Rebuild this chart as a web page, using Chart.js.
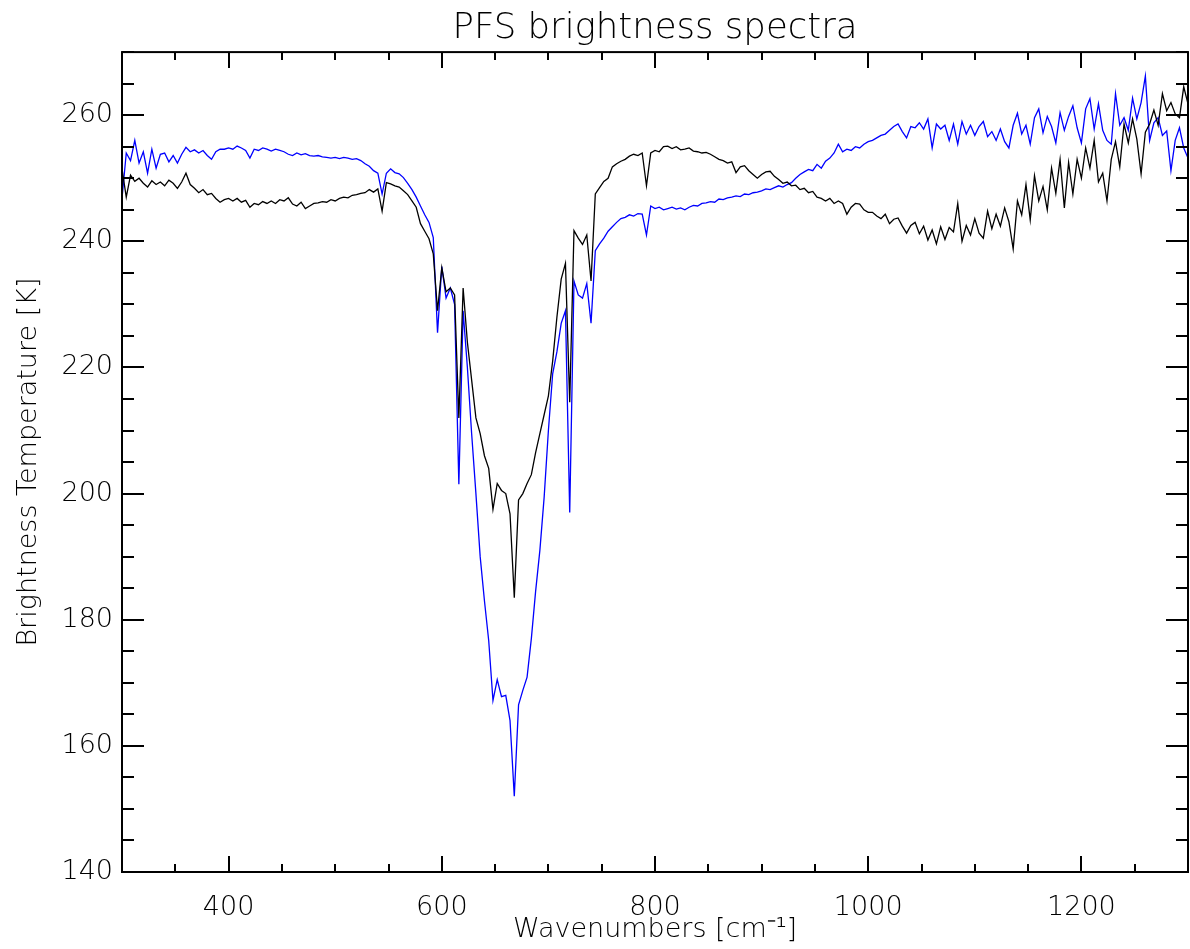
<!DOCTYPE html>
<html>
<head>
<meta charset="utf-8">
<title>PFS brightness spectra</title>
<script src="https://cdn.jsdelivr.net/npm/chart.js@4.4.1/dist/chart.umd.min.js"></script>
<style>
  html, body { margin: 0; padding: 0; background: #fff; overflow: hidden; }
  #wrap { width: 1190px; height: 949px; }
</style>
</head>
<body>
<div id="wrap"><canvas id="grafico"></canvas></div>
<script>
// wavenumber grid: 300 .. 1300 cm-1, one sample every 4 cm-1
const wnStart = 300;
const wnStep = 4;

const xMajorTicks = [400, 600, 800, 1000, 1200];
const yMajorTicks = [140, 160, 180, 200, 220, 240, 260];

// black spectrum [K], rows of 10 samples (row start in comment)
const tempBlack = [
  251.5, 247, 250.5, 249.5, 250, 249.2, 248.6, 249.6, 249, 249.4,         // 300
  248.8, 249.7, 249.2, 248.4, 249.4, 250.8, 249, 248.4, 247.7, 248.2,     // 340
  247.4, 247.6, 246.8, 246.2, 246.6, 246.8, 246.4, 246.8, 246.2, 246.5,   // 380
  245.4, 246, 245.8, 246.3, 246, 246.4, 246, 246.6, 246.4, 246.9,         // 420
  245.9, 245.6, 246.2, 245.2, 245.6, 246, 246.1, 246.3, 246.2, 246.6,     // 460
  246.4, 246.8, 247, 246.9, 247.3, 247.4, 247.6, 247.7, 248.2, 247.8,     // 500
  248.3, 244.8, 249.3, 249.1, 248.8, 248.6, 248, 247.4, 246.4, 245.4,     // 540
  242.8, 241.6, 240.4, 238, 229, 235.8, 232, 232.6, 231.5, 212,           // 580
  232.6, 224, 218, 212, 209.5, 206, 204, 197.5, 201.6, 200.5,             // 620
  200, 196.8, 183.5, 199, 200, 201.6, 203, 206.5, 209.5, 212.5,           // 660
  215.5, 221, 228, 234, 236.5, 214.5, 241.7, 240.5, 239.5, 241,           // 700
  233.7, 247.5, 248.5, 249.5, 250, 251.8, 252.3, 252.7, 253, 253.5,       // 740
  253.8, 253.6, 254, 248.8, 254, 254.4, 254.2, 255, 255.1, 254.7,         // 780
  255, 254.5, 254.6, 254.8, 254.3, 254.2, 254, 254.1, 253.8, 253.4,       // 820
  253, 252.8, 252.4, 252.6, 250.9, 251.8, 252, 251.2, 250.6, 250,         // 860
  250.6, 251, 251.1, 250.3, 249.8, 249.2, 249.4, 248.8, 248.9, 248.2,     // 900
  248.4, 247.7, 247.9, 247, 246.8, 246.4, 246.8, 246, 246.4, 246,         // 940
  244.3, 245.4, 246, 245.9, 245, 244.6, 244.6, 244, 243.6, 244.3,         // 980
  242.8, 243.5, 243.7, 242.4, 241.3, 242.5, 243, 241.2, 242.4, 240.2,     // 1020
  241.8, 239.6, 242.3, 240.3, 242.2, 241.5, 246, 240, 242.5, 241,         // 1060
  243.6, 241.3, 240.5, 244.8, 242, 244.3, 242.4, 245.3, 243.1, 238.8,     // 1100
  246.4, 244.2, 249, 243.4, 250.4, 246.4, 248.7, 245, 251.6, 247.6,       // 1140
  253, 245.3, 252.5, 247.5, 253, 250, 254.8, 251.6, 256, 249.4,           // 1180
  250.8, 246.4, 253, 255.8, 251.8, 258.6, 255.6, 259.4, 256.2, 250.7,     // 1220
  257.3, 258.6, 260.8, 258.4, 263.4, 260.7, 262, 260.2, 259.6, 264.5,     // 1260
  261.8                                                                   // 1300
];

// blue spectrum [K]
const tempBlue = [
  246.8, 254, 252.8, 256, 252.4, 254.2, 250.8, 254.6, 251.6, 253.8,       // 300
  254, 252.6, 253.6, 252.4, 253.8, 254.9, 254.2, 254.5, 254, 254.4,       // 340
  253.6, 253, 254.2, 254.6, 254.6, 254.8, 254.6, 255.1, 254.8, 254.4,     // 380
  253.2, 254.6, 254.4, 254.8, 254.6, 254.3, 254.6, 254.4, 254.2, 253.8,   // 420
  253.6, 254, 253.7, 253.9, 253.6, 253.5, 253.6, 253.4, 253.3, 253.2,     // 460
  253.3, 253.1, 253.3, 253.2, 253, 253.1, 252.8, 252.3, 251.9, 251.2,     // 500
  250.8, 247.5, 250.8, 251.5, 250.9, 250.7, 250.1, 249.2, 248.2, 247,     // 540
  245.6, 244.2, 243, 240.6, 225.5, 236, 231, 232.6, 230, 201.5,           // 580
  229, 220, 209.5, 200, 190, 183, 176.7, 167.2, 170.5, 167.8,             // 620
  168, 164, 152, 166.5, 168.8, 170.9, 177, 184.5, 191, 199.4,             // 660
  210, 219, 222.5, 227, 229, 197, 233.7, 231.5, 231, 233.3,               // 700
  227, 238.5, 239.6, 240.5, 241.6, 242.3, 243, 243.6, 243.8, 244.2,       // 740
  244, 244.4, 244.3, 241, 245.6, 245.2, 245.4, 245, 245.2, 245.4,         // 780
  245.1, 245.3, 245, 245.4, 245.7, 245.6, 246, 246.1, 246.3, 246.2,       // 820
  246.7, 246.6, 246.9, 247, 247.2, 247.1, 247.5, 247.4, 247.7, 247.8,     // 860
  248, 248.3, 248.2, 248.5, 248.8, 248.6, 249, 249.3, 250, 250.6,         // 900
  251, 251.4, 251.2, 252.2, 251.6, 252.7, 253.2, 254, 255.4, 254.2,       // 940
  254.6, 254.4, 255, 254.8, 255.4, 255.8, 256, 256.4, 256.8, 257,         // 980
  257.6, 258.2, 258.6, 257.4, 256.4, 258.2, 258, 258.8, 257.8, 259.4,     // 1020
  254.8, 258.6, 257.8, 258.4, 256, 258.6, 255.4, 259, 257, 258.4,         // 1060
  256.8, 258.2, 259, 256.6, 257.4, 256, 257.8, 255.8, 254.8, 258.4,       // 1100
  260.3, 257, 258.4, 255.4, 259.6, 261, 257.2, 259.8, 258.2, 255.6,       // 1140
  260.4, 257.6, 259.8, 261.5, 258, 255.6, 261, 262.6, 257.8, 261.8,       // 1180
  257.6, 256, 255.4, 263.4, 258.4, 259.6, 257.6, 262.7, 259.4, 262,       // 1220
  266.2, 256, 258.8, 259.6, 256.8, 257.5, 251.2, 256, 258, 254.8,         // 1260
  253.2                                                                   // 1300
];

const toPoints = temps => temps.map((t, i) => ({ x: wnStart + i * wnStep, y: t }));

const fontFamily = "'DejaVu Sans', 'Liberation Sans', sans-serif";
const labelFont = { family: fontFamily, size: 27, weight: 200 };

// IDL style frame with inward ticks on all four sides
const idlTicks = {
  id: "idlTicks",
  afterDatasetsDraw(chart) {
    const { ctx, chartArea: a, scales: { x, y } } = chart;
    ctx.save();
    ctx.strokeStyle = "#000";
    ctx.lineWidth = 2;
    ctx.beginPath();
    for (let v = x.min; v <= x.max; v += 50) {
      const px = Math.round(x.getPixelForValue(v));
      const len = xMajorTicks.includes(v) ? 16 : 8;
      ctx.moveTo(px, a.bottom); ctx.lineTo(px, a.bottom - len);
      ctx.moveTo(px, a.top); ctx.lineTo(px, a.top + len);
    }
    for (let v = y.min; v <= y.max; v += 5) {
      const py = Math.round(y.getPixelForValue(v));
      const len = yMajorTicks.includes(v) ? 22 : 12;
      ctx.moveTo(a.left, py); ctx.lineTo(a.left + len, py);
      ctx.moveTo(a.right, py); ctx.lineTo(a.right - len, py);
    }
    ctx.stroke();
    ctx.strokeRect(a.left, a.top, a.right - a.left, a.bottom - a.top);
    ctx.restore();
  }
};

new Chart(document.getElementById("grafico"), {
  type: "line",
  data: {
    datasets: [
      { label: "black", data: toPoints(tempBlack), borderColor: "#000000", borderWidth: 1.3 },
      { label: "blue", data: toPoints(tempBlue), borderColor: "#0000ff", borderWidth: 1.3 }
    ]
  },
  options: {
    responsive: true,
    maintainAspectRatio: false,
    animation: false,
    layout: { padding: { left: 0, right: 2, top: 0, bottom: 0 } },
    elements: { point: { radius: 0 }, line: { tension: 0 } },
    plugins: {
      legend: { display: false },
      tooltip: { enabled: false },
      title: {
        display: true,
        fullSize: false,
        text: "PFS brightness spectra",
        color: "#000",
        font: { family: fontFamily, size: 35.5, weight: 200 },
        padding: { top: 7.5, bottom: 2 }
      }
    },
    scales: {
      x: {
        type: "linear",
        min: 300,
        max: 1300,
        grid: { display: false, drawTicks: false },
        border: { display: false },
        afterBuildTicks: s => { s.ticks = xMajorTicks.map(v => ({ value: v })); },
        afterFit: s => { s.height = 77; },
        ticks: {
          color: "#000",
          font: labelFont,
          padding: 20,
          maxRotation: 0,
          autoSkip: false,
          callback: v => String(v)
        },
        title: {
          display: true,
          text: "Wavenumbers [cm⁻¹]",
          color: "#000",
          font: labelFont,
          padding: { top: 0, bottom: 3 }
        }
      },
      y: {
        min: 140,
        max: 270,
        grid: { display: false, drawTicks: false },
        border: { display: false },
        afterBuildTicks: s => { s.ticks = yMajorTicks.map(v => ({ value: v })); },
        afterFit: s => { s.width = 122; },
        ticks: {
          color: "#000",
          font: labelFont,
          padding: 9,
          autoSkip: false,
          callback: v => String(v)
        },
        title: {
          display: true,
          text: "Brightness Temperature [K]",
          color: "#000",
          font: labelFont,
          padding: { top: 13, bottom: 0 }
        }
      }
    }
  },
  plugins: [idlTicks]
});
</script>
</body>
</html>
